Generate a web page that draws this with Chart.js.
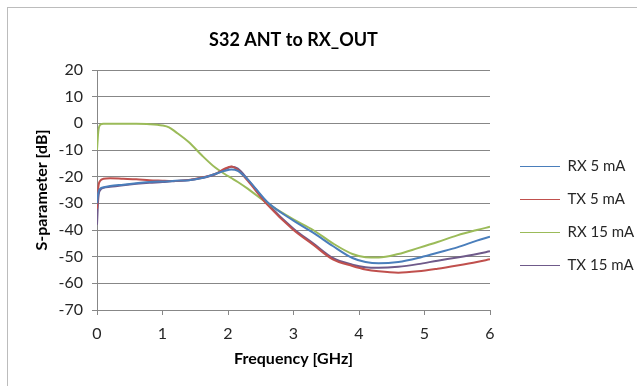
<!DOCTYPE html>
<html>
<head>
<meta charset="utf-8">
<script src="https://cdn.jsdelivr.net/npm/chart.js@4.4.1/dist/chart.umd.min.js"></script>
<style>
    html, body { margin: 0; padding: 0; background: #fff; }
    #marco { position: absolute; left: 7px; top: 7px; width: 640px; height: 390px; border: 1px solid #bcbcbc; }
    #caja { position: absolute; left: 0; top: 0; width: 637px; height: 386px; }
</style>
</head>
<body>
<div id="marco"></div>
<div id="caja"><canvas id="grafico"></canvas></div>
<script>
// Curvas S32 (frecuencia en GHz, valores en dB)
const frecuencias = [0, 0.02, 0.05, 0.1, 0.2, 0.4, 0.6, 0.8, 1.0, 1.1, 1.2, 1.4, 1.6, 1.8, 1.95, 2.05, 2.15, 2.3, 2.6, 3.0, 3.3, 3.6, 3.9, 4.1, 4.3, 4.6, 4.9, 5.2, 5.5, 5.8, 6.0];
const rx5mA  = [-30, -26, -24.5, -24, -23.5, -23, -22.5, -22, -21.8, -21.7, -21.5, -21.3, -20.5, -19, -17.8, -17.3, -17.8, -21, -29.5, -36.5, -41, -46, -50.5, -52, -52.5, -52, -50.5, -48.5, -46.5, -44, -42.5];
const tx5mA  = [-32, -24, -21.5, -20.8, -20.6, -20.8, -21, -21.3, -21.5, -21.6, -21.6, -21.2, -20.3, -19, -17, -16.2, -17.5, -21.5, -30.5, -40, -45.5, -51, -53.5, -54.8, -55.5, -56, -55.5, -54.5, -53.3, -52, -51];
const rx15mA = [-10, -3, -0.5, -0.2, -0.2, -0.2, -0.2, -0.3, -0.8, -1.5, -3.2, -7, -12, -16.5, -19, -20.5, -22, -24.5, -30, -36, -40, -45, -49, -50.2, -50.3, -49, -46.8, -44.5, -42, -40, -38.8];
const tx15mA = [-38, -28, -25, -24.2, -23.8, -23.2, -22.7, -22.3, -22, -21.8, -21.6, -21.3, -20.5, -19.2, -17.3, -16.3, -17, -21, -30, -39.5, -45, -50.5, -53, -54, -54.2, -53.8, -52.8, -51.5, -50.3, -49, -48];

const ejeY = { min: -70, max: 20, paso: 10 };
const ejeX = { min: 0, max: 6, paso: 1 };

const FUENTE = 'Lato, "Open Sans", sans-serif';
const GRIS = '#878787';

function serie(nombre, valores, color) {
    return {
        label: nombre,
        data: frecuencias.map((f, i) => ({ x: f, y: valores[i] })),
        borderColor: color,
        backgroundColor: color,
        borderWidth: 2,
        pointRadius: 0,
        cubicInterpolationMode: 'monotone'
    };
}

// La leyenda de Excel queda un poco más a la derecha y más abajo que la de Chart.js
const correrLeyenda = {
    id: 'correrLeyenda',
    afterLayout(chart) {
        const l = chart.legend;
        l.left += 12; l.right += 12;
        l.top += 23; l.bottom += 23;
    }
};

new Chart(document.getElementById('grafico'), {
    type: 'line',
    data: {
        datasets: [
            serie('RX 5 mA', rx5mA, '#4a7ebb'),
            serie('TX 5 mA', tx5mA, '#c0504d'),
            serie('RX 15 mA', rx15mA, '#9bbb59'),
            serie('TX 15 mA', tx15mA, '#6f5a8a')
        ]
    },
    options: {
        responsive: true,
        maintainAspectRatio: false,
        animation: false,
        layout: { padding: { left: 24, top: 0, right: 0, bottom: 0 } },
        plugins: {
            title: {
                display: true,
                fullSize: false,
                text: 'S32 ANT to RX_OUT',
                color: '#000',
                font: { family: FUENTE, size: 18, weight: 'bold' },
                padding: { top: 29, bottom: 19.4 }
            },
            legend: {
                position: 'right',
                labels: {
                    color: '#262626',
                    font: { family: FUENTE, size: 15 },
                    boxWidth: 40,
                    boxHeight: 1,
                    padding: 18,
                    generateLabels: (chart) => Chart.defaults.plugins.legend.labels.generateLabels(chart)
                        .map(item => ({ ...item, lineWidth: 0 }))
                }
            },
            tooltip: { enabled: false }
        },
        scales: {
            x: {
                type: 'linear',
                min: ejeX.min, max: ejeX.max,
                ticks: { stepSize: ejeX.paso, color: '#262626', font: { family: FUENTE, size: 16 }, padding: 9 },
                grid: { drawOnChartArea: false, color: GRIS, tickLength: 5 },
                border: { color: GRIS },
                title: {
                    display: true,
                    text: 'Frequency [GHz]',
                    color: '#000',
                    font: { family: FUENTE, size: 16, weight: 'bold' },
                    padding: { top: 0, bottom: 18 }
                },
                afterFit(scale) {
                    scale.height = 76;
                    scale.paddingRight = 147;
                }
            },
            y: {
                min: ejeY.min, max: ejeY.max,
                ticks: { stepSize: ejeY.paso, color: '#262626', font: { family: FUENTE, size: 16 }, padding: 9 },
                grid: { color: GRIS, tickLength: 5 },
                border: { color: GRIS },
                title: {
                    display: true,
                    text: 'S-parameter [dB]',
                    color: '#000',
                    font: { family: FUENTE, size: 16, weight: 'bold' },
                    padding: { top: 8, bottom: 0 }
                },
                afterFit(scale) {
                    scale.width = 73;
                }
            }
        }
    },
    plugins: [correrLeyenda]
});
</script>
</body>
</html>
